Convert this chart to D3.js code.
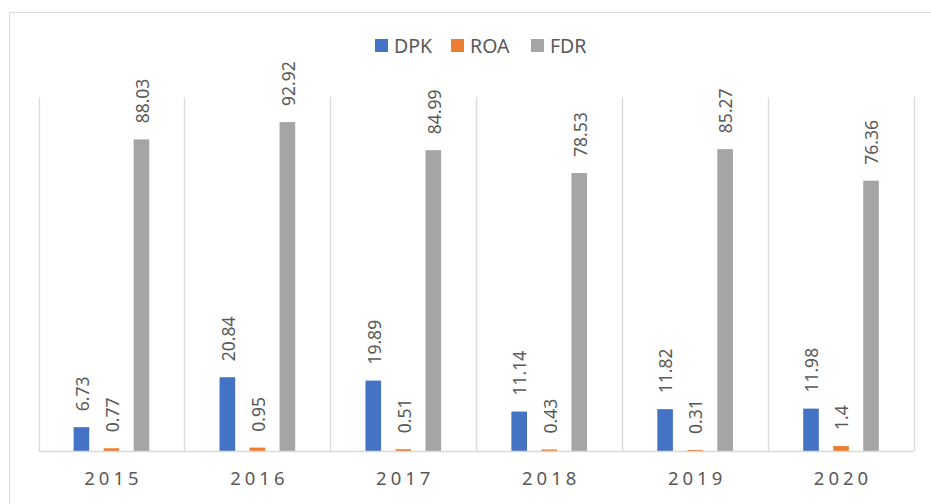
<!DOCTYPE html>
<html>
<head>
<meta charset="utf-8">
<script src="https://cdn.jsdelivr.net/npm/d3@7"></script>
<style>
  body { margin: 0; background: #fff; }
  svg { display: block; font-family: "Noto Sans", sans-serif; }
</style>
</head>
<body>
<svg id="chart" width="931" height="504"></svg>
<script>
var years = ["2015", "2016", "2017", "2018", "2019", "2020"];
var seriesNames = ["DPK", "ROA", "FDR"];
var dpk = [6.73, 20.84, 19.89, 11.14, 11.82, 11.98];
var roa = [0.77, 0.95, 0.51, 0.43, 0.31, 1.4];
var fdr = [88.03, 92.92, 84.99, 78.53, 85.27, 76.36];
var colors = ["#4472C4", "#ED7D31", "#A5A5A5"];

var svg = d3.select("#chart");
var textColor = "#595959";
var gridColor = "#d9d9d9";

// outer chart border
svg.append("rect")
  .attr("x", 9.5).attr("y", 12.5)
  .attr("width", 940).attr("height", 520)
  .attr("fill", "none").attr("stroke", gridColor);

var plotLeft = 38.5, plotRight = 914, plotTop = 97, plotBottom = 451;

var x = d3.scaleBand().domain(years).range([plotLeft, plotRight]).padding(0);
var xi = d3.scaleBand().domain(seriesNames).range([0, x.bandwidth()])
  .paddingInner(0.48).paddingOuter(1.17);
var y = d3.scaleLinear().domain([0, 100]).range([plotBottom, plotTop]);

// vertical gridlines at category boundaries
var bounds = years.map(function(d) { return x(d); }).concat([plotRight]);
svg.append("g").selectAll("line")
  .data(bounds)
  .enter().append("line")
  .attr("x1", function(d) { return Math.round(d) + 0.5; })
  .attr("x2", function(d) { return Math.round(d) + 0.5; })
  .attr("y1", plotTop).attr("y2", plotBottom)
  .attr("stroke", gridColor).attr("stroke-width", 1.3);

var rows = [];
years.forEach(function(yr, i) {
  rows.push({ year: yr, s: "DPK", v: dpk[i], c: colors[0] });
  rows.push({ year: yr, s: "ROA", v: roa[i], c: colors[1] });
  rows.push({ year: yr, s: "FDR", v: fdr[i], c: colors[2] });
});

svg.append("g").selectAll("rect")
  .data(rows)
  .enter().append("rect")
  .attr("x", function(d) { return x(d.year) + xi(d.s); })
  .attr("y", function(d) { return y(d.v); })
  .attr("width", xi.bandwidth())
  .attr("height", function(d) { return plotBottom - y(d.v); })
  .attr("fill", function(d) { return d.c; });

// baseline
svg.append("line")
  .attr("x1", plotLeft).attr("x2", plotRight)
  .attr("y1", plotBottom + 0.5).attr("y2", plotBottom + 0.5)
  .attr("stroke", gridColor).attr("stroke-width", 1.3);

// data labels, rotated
svg.append("g").selectAll("text")
  .data(rows)
  .enter().append("text")
  .attr("transform", function(d) {
    var cx = x(d.year) + xi(d.s) + xi.bandwidth() / 2 + 1;
    var cy = y(d.v) - 16;
    return "translate(" + cx + "," + cy + ") rotate(-90)";
  })
  .attr("dy", "0.36em")
  .attr("text-anchor", "start")
  .attr("font-size", "17.5px")
  .attr("fill", textColor)
  .text(function(d) { return d.v; });

// x axis labels
svg.append("g").selectAll("text")
  .data(years)
  .enter().append("text")
  .attr("x", function(d) { return x(d) + x.bandwidth() / 2 + 2; })
  .attr("y", 485)
  .attr("text-anchor", "middle")
  .attr("font-size", "18.5px")
  .attr("letter-spacing", "4px")
  .attr("fill", textColor)
  .text(function(d) { return d; });

// legend
var legendX = [375, 451, 531];
var lg = svg.append("g").selectAll("g")
  .data(seriesNames)
  .enter().append("g")
  .attr("transform", function(d, i) { return "translate(" + legendX[i] + ",39)"; });
lg.append("rect")
  .attr("width", 13).attr("height", 13)
  .attr("fill", function(d, i) { return colors[i]; });
lg.append("text")
  .attr("x", 19).attr("y", 14)
  .attr("font-size", "19.5px")
  .attr("fill", textColor)
  .text(function(d) { return d; });
</script>
</body>
</html>
